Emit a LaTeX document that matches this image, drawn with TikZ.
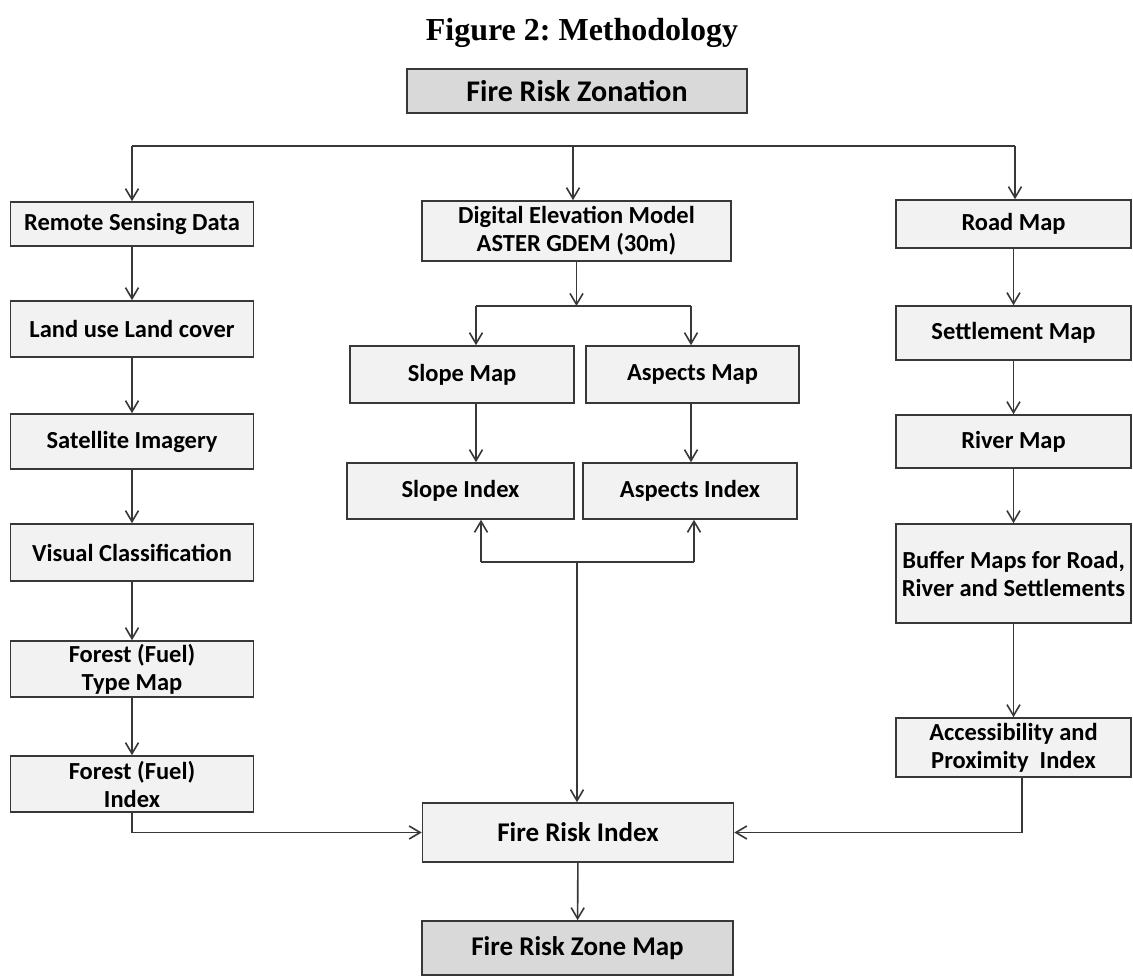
\documentclass[tikz,border=0pt]{standalone}
\usepackage{fontspec}
\setmainfont{Carlito}
\newfontfamily\titlefont{Liberation Serif}
\usetikzlibrary{arrows.meta}
\definecolor{boxfill}{HTML}{F2F2F2}
\definecolor{headfill}{HTML}{D9D9D9}
\definecolor{linegray}{HTML}{383838}
\frenchspacing

\begin{document}
\begin{tikzpicture}[x=1pt, y=-1pt,
    box/.style={draw=linegray, line width=1.6pt, fill=boxfill, align=center, inner sep=1pt,
      font=\fontsize{24.5}{28}\selectfont\bfseries},
    lbox/.style={box, minimum width=243pt},
    rbox/.style={box, minimum width=235pt},
    head/.style={box, fill=headfill},
    link/.style={draw=linegray, line width=1.6pt},
    arr/.style={link, -{Straight Barb[length=11pt,width=13pt]}}]
  \useasboundingbox[fill=white] (0,0) rectangle (1133,976);
  \node[anchor=base] (title) at (582,41) {\titlefont\fontsize{32}{36}\selectfont\bfseries Figure 2: Methodology};
  \node[head, minimum width=340pt, minimum height=44pt, font=\fontsize{30}{34}\selectfont\bfseries] (zonation) at (577,91) {Fire Risk Zonation};

  \node[lbox, minimum height=44pt] (rs) at (132,224) {Remote Sensing Data};
  \node[lbox, minimum height=56pt] (lulc) at (132,329) {Land use Land cover};
  \node[lbox, minimum height=55pt] (sat) at (132,441.5) {Satellite Imagery};
  \node[lbox, minimum height=57pt] (vc) at (132,552.5) {Visual Classification};
  \node[lbox, minimum height=56pt] (ftm) at (132,669) {Forest (Fuel)\\Type Map};
  \node[lbox, minimum height=56pt] (fi) at (132,784) {Forest (Fuel)\\Index};

  \node[box, minimum width=309pt, minimum height=60pt] (dem) at (576.5,231) {Digital Elevation Model\\ASTER GDEM (30m)};
  \node[box, minimum width=224pt, minimum height=57pt] (slope) at (462,374.5) {Slope Map};
  \node[box, minimum width=213pt, minimum height=57pt] (aspect) at (692.5,374.5) {Aspects Map};
  \node[box, minimum width=227pt, minimum height=56pt] (slopeidx) at (460.5,491) {Slope Index};
  \node[box, minimum width=214pt, minimum height=56pt] (aspectidx) at (690,491) {Aspects Index};

  \node[rbox, minimum height=48pt] (road) at (1013.5,224) {Road Map};
  \node[rbox, minimum height=54pt] (settle) at (1013.5,333) {Settlement Map};
  \node[rbox, minimum height=53pt] (river) at (1013.5,441.5) {River Map};
  \node[rbox, minimum height=99pt] (buffer) at (1013.5,573.5) {Buffer Maps for Road,\\River and Settlements};
  \node[rbox, minimum height=59pt] (access) at (1013.5,747.5) {Accessibility and\\Proximity\ \ Index};

  \node[box, minimum width=311pt, minimum height=59pt, font=\fontsize{27}{30}\selectfont\bfseries] (fri) at (578,832.5) {Fire Risk Index};
  \node[head, minimum width=311pt, minimum height=54pt, font=\fontsize{27}{30}\selectfont\bfseries] (zone) at (577.5,948) {Fire Risk Zone Map};

  \coordinate (tl) at (132,146);
  \coordinate (tm) at (573,146);
  \coordinate (tr) at (1015,146);
  \draw[link] (tl) -- (tr);
  \draw[arr] (tl) -- (tl |- rs.north);
  \draw[arr] (tm) -- (tm |- dem.north);
  \draw[arr] (tr) -- (tr |- road.north);

  \foreach \a/\b in {rs/lulc, lulc/sat, sat/vc, vc/ftm, ftm/fi, road/settle, settle/river, river/buffer, buffer/access}
    \draw[arr] (\a) -- (\b);

  \coordinate (ml) at (476,306);
  \coordinate (mr) at (691,306);
  \draw[arr] (dem) -- (dem.south |- ml);
  \draw[link] (ml) -- (mr);
  \draw[arr] (ml) -- (ml |- slope.north);
  \draw[arr] (mr) -- (mr |- aspect.north);
  \draw[arr] (ml |- slope.south) -- (ml |- slopeidx.north);
  \draw[arr] (mr |- aspect.south) -- (mr |- aspectidx.north);

  \coordinate (jl) at (481,562);
  \coordinate (jm) at (577,562);
  \coordinate (jr) at (694,562);
  \draw[link] (jl) -- (jr);
  \draw[arr] (jl) -- (jl |- slopeidx.south);
  \draw[arr] (jr) -- (jr |- aspectidx.south);
  \draw[arr] (jm) -- (jm |- fri.north);

  \draw[arr] (fi.south) |- (fri.west);
  \draw[arr] ([xshift=8.5pt]access.south) |- (fri.east);
  \draw[arr] (fri) -- (zone);
\end{tikzpicture}
\end{document}
